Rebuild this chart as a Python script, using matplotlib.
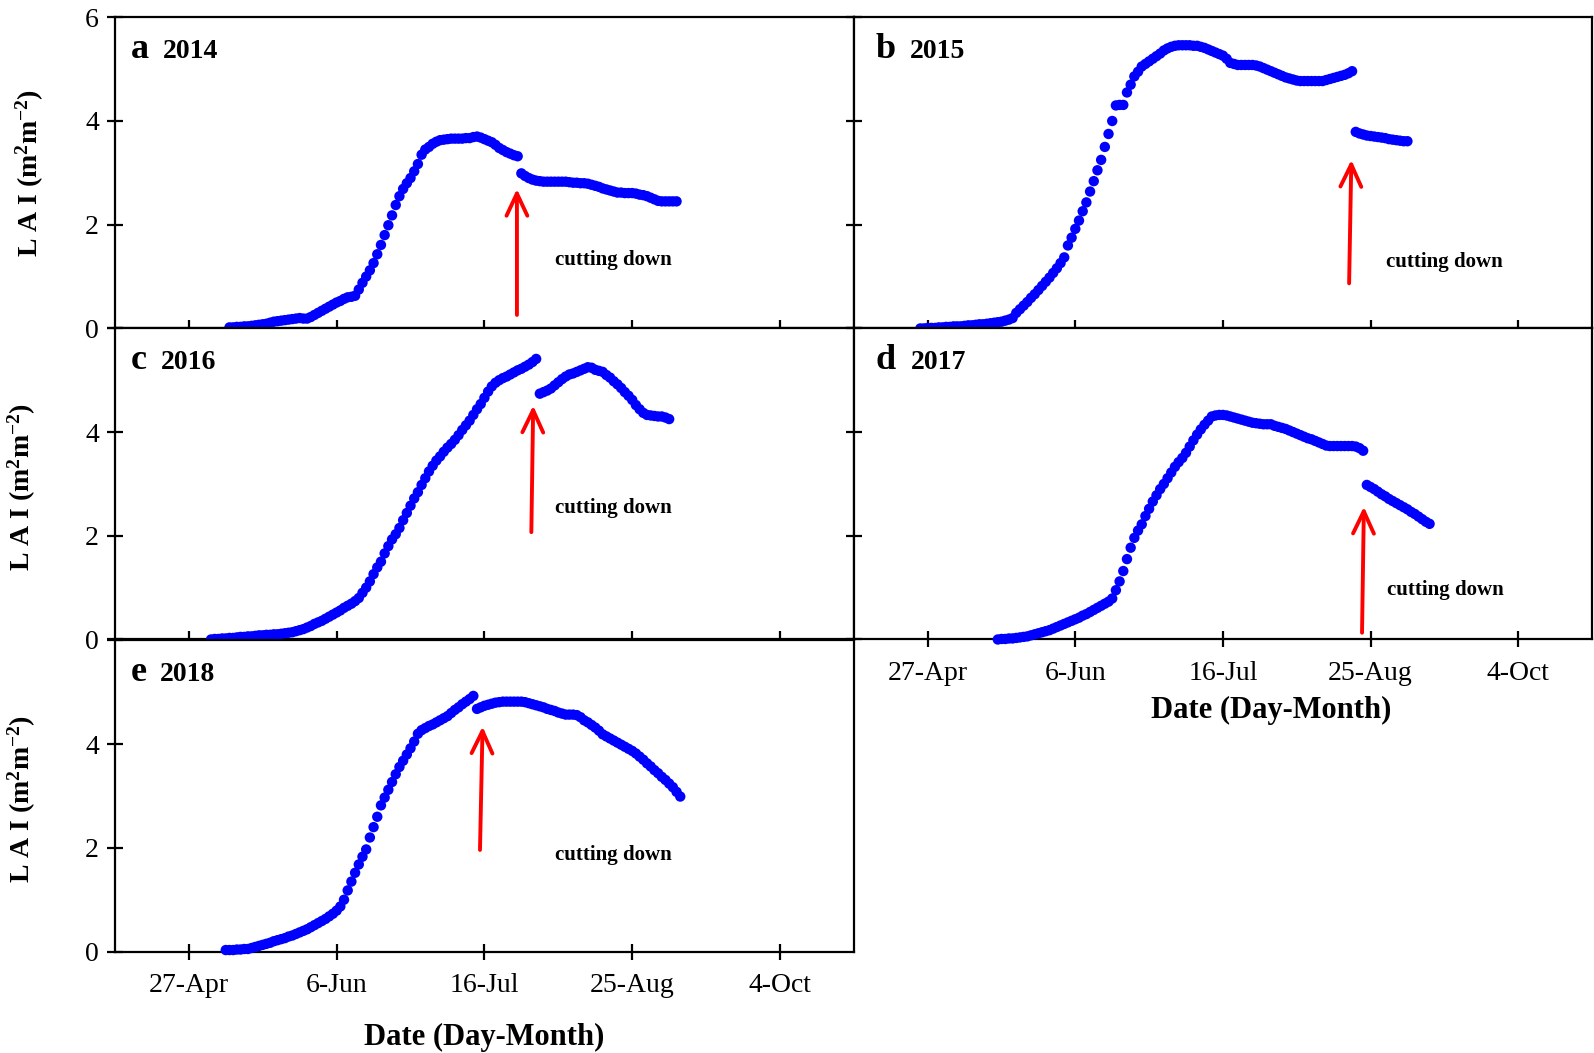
import numpy as np
import matplotlib
matplotlib.use("Agg")
import matplotlib.pyplot as plt

plt.rcParams['font.family'] = ['Liberation Serif', 'DejaVu Serif']
plt.rcParams['mathtext.fontset'] = 'custom'
plt.rcParams['mathtext.rm'] = 'Liberation Serif'
plt.rcParams['mathtext.bf'] = 'Liberation Serif:bold'
plt.rcParams['mathtext.default'] = 'bf'

# day of year ticks
tick_doy = [117, 157, 197, 237, 277]
tick_labels = ['27-Apr', '6-Jun', '16-Jul', '25-Aug', '4-Oct']

# 2014 (a)
start_2014 = 128
lai_2014_pre = [0.02, 0.02, 0.03, 0.03, 0.04, 0.04, 0.05, 0.06, 0.07, 0.08,
                0.09, 0.11, 0.13, 0.14, 0.15, 0.16, 0.17, 0.18, 0.19, 0.2,
                0.19, 0.19, 0.22, 0.26, 0.3, 0.34, 0.38, 0.42, 0.46, 0.5,
                0.53, 0.57, 0.6, 0.61, 0.63, 0.75, 0.88, 1.0, 1.12, 1.26,
                1.43, 1.61, 1.8, 1.99, 2.18, 2.38, 2.55, 2.69, 2.8, 2.9,
                3.03, 3.17, 3.35, 3.45, 3.5, 3.56, 3.6, 3.63, 3.64, 3.65,
                3.66, 3.66, 3.66, 3.66, 3.67, 3.67, 3.69, 3.7, 3.68, 3.65,
                3.62, 3.59, 3.54, 3.48, 3.44, 3.4, 3.37, 3.34, 3.32]
lai_2014_post = [2.99, 2.94, 2.9, 2.87, 2.85, 2.84, 2.83, 2.83, 2.83, 2.83,
                 2.83, 2.83, 2.83, 2.82, 2.81, 2.81, 2.8, 2.8, 2.79, 2.77,
                 2.75, 2.73, 2.7, 2.68, 2.66, 2.64, 2.62, 2.62, 2.61, 2.61,
                 2.61, 2.6, 2.58, 2.57, 2.55, 2.52, 2.49, 2.46, 2.45, 2.45,
                 2.45, 2.45, 2.45]

# 2015 (b)
start_2015 = 115
lai_2015_pre = [0, 0, 0.01, 0.01, 0.01, 0.02, 0.02, 0.03, 0.03, 0.04,
                0.04, 0.04, 0.05, 0.06, 0.06, 0.07, 0.08, 0.08, 0.09, 0.1,
                0.11, 0.12, 0.13, 0.15, 0.17, 0.2, 0.3, 0.37, 0.44, 0.51,
                0.59, 0.66, 0.74, 0.82, 0.9, 0.98, 1.07, 1.16, 1.26, 1.37,
                1.6, 1.75, 1.92, 2.08, 2.26, 2.43, 2.64, 2.84, 3.05, 3.25,
                3.5, 3.75, 4.0, 4.3, 4.31, 4.31, 4.55, 4.7, 4.86, 4.95,
                5.05, 5.1, 5.15, 5.2, 5.25, 5.3, 5.36, 5.4, 5.43, 5.45,
                5.46, 5.46, 5.46, 5.46, 5.45, 5.45, 5.43, 5.41, 5.38, 5.35,
                5.32, 5.29, 5.26, 5.2, 5.12, 5.1, 5.08, 5.08, 5.08, 5.08,
                5.08, 5.07, 5.05, 5.02, 4.99, 4.96, 4.93, 4.9, 4.87, 4.84,
                4.82, 4.8, 4.78, 4.77, 4.77, 4.77, 4.77, 4.77, 4.77, 4.77,
                4.79, 4.81, 4.83, 4.85, 4.87, 4.89, 4.92, 4.96]
lai_2015_post = [3.79, 3.76, 3.74, 3.72, 3.71, 3.7, 3.69, 3.68, 3.67, 3.65,
                 3.64, 3.63, 3.62, 3.61, 3.61]

# 2016 (c)
start_2016 = 123
lai_2016_pre = [0, 0.01, 0.01, 0.02, 0.02, 0.03, 0.03, 0.04, 0.05, 0.05,
                0.06, 0.06, 0.07, 0.08, 0.08, 0.09, 0.09, 0.1, 0.1, 0.11,
                0.12, 0.13, 0.14, 0.16, 0.18, 0.2, 0.23, 0.26, 0.3, 0.33,
                0.36, 0.4, 0.44, 0.48, 0.52, 0.56, 0.61, 0.65, 0.69, 0.74,
                0.8, 0.9, 1.0, 1.12, 1.26, 1.39, 1.5, 1.66, 1.8, 1.93,
                2.03, 2.15, 2.3, 2.44, 2.58, 2.72, 2.84, 2.98, 3.11, 3.24,
                3.35, 3.45, 3.53, 3.62, 3.7, 3.77, 3.85, 3.94, 4.04, 4.13,
                4.22, 4.33, 4.44, 4.54, 4.66, 4.78, 4.88, 4.95, 5.0, 5.04,
                5.07, 5.11, 5.15, 5.19, 5.22, 5.26, 5.3, 5.35, 5.41]
lai_2016_post = [4.74, 4.77, 4.8, 4.84, 4.9, 4.96, 5.02, 5.07, 5.11, 5.13,
                 5.16, 5.19, 5.22, 5.25, 5.24, 5.2, 5.18, 5.16, 5.1, 5.05,
                 4.98, 4.92, 4.85, 4.77, 4.7, 4.62, 4.52, 4.44, 4.37, 4.33,
                 4.32, 4.31, 4.3, 4.3, 4.28, 4.25]

# 2017 (d)
start_2017 = 136
lai_2017_pre = [0, 0.01, 0.01, 0.02, 0.02, 0.03, 0.04, 0.05, 0.06, 0.08,
                0.1, 0.12, 0.14, 0.16, 0.18, 0.21, 0.24, 0.27, 0.3, 0.33,
                0.36, 0.39, 0.42, 0.46, 0.49, 0.53, 0.57, 0.61, 0.65, 0.69,
                0.73, 0.79, 0.95, 1.12, 1.32, 1.55, 1.77, 1.96, 2.1, 2.22,
                2.38, 2.52, 2.66, 2.78, 2.9, 3.0, 3.11, 3.22, 3.33, 3.42,
                3.5, 3.6, 3.72, 3.84, 3.95, 4.05, 4.14, 4.22, 4.3, 4.32,
                4.33, 4.33, 4.32, 4.3, 4.28, 4.26, 4.24, 4.22, 4.2, 4.18,
                4.17, 4.16, 4.15, 4.15, 4.15, 4.12, 4.1, 4.08, 4.06, 4.03,
                4.0, 3.97, 3.94, 3.91, 3.88, 3.86, 3.83, 3.8, 3.77, 3.74,
                3.73, 3.73, 3.73, 3.73, 3.73, 3.73, 3.73, 3.72, 3.69, 3.64]
lai_2017_post = [2.98, 2.94, 2.9, 2.85, 2.8, 2.76, 2.71, 2.67, 2.63, 2.59,
                 2.55, 2.51, 2.46, 2.42, 2.37, 2.32, 2.27, 2.23]

# 2018 (e)
start_2018 = 127
lai_2018_pre = [0.03, 0.03, 0.03, 0.04, 0.04, 0.05, 0.05, 0.07, 0.09, 0.11,
                0.13, 0.15, 0.17, 0.2, 0.22, 0.24, 0.26, 0.29, 0.31, 0.34,
                0.37, 0.4, 0.43, 0.47, 0.51, 0.55, 0.59, 0.63, 0.68, 0.73,
                0.79, 0.87, 1.0, 1.18, 1.35, 1.52, 1.68, 1.83, 1.97, 2.2,
                2.4, 2.6, 2.82, 2.97, 3.12, 3.27, 3.42, 3.56, 3.68, 3.8,
                3.92, 4.05, 4.2, 4.27, 4.31, 4.35, 4.38, 4.42, 4.46, 4.5,
                4.54, 4.6, 4.66, 4.71, 4.77, 4.82, 4.87, 4.93]
lai_2018_post = [4.68, 4.71, 4.74, 4.76, 4.78, 4.8, 4.81, 4.82, 4.82, 4.82,
                 4.82, 4.82, 4.82, 4.81, 4.79, 4.77, 4.75, 4.73, 4.71, 4.68,
                 4.66, 4.64, 4.61, 4.59, 4.57, 4.57, 4.57, 4.56, 4.52, 4.46,
                 4.42, 4.37, 4.32, 4.26, 4.19, 4.15, 4.11, 4.07, 4.03, 3.99,
                 3.95, 3.91, 3.87, 3.82, 3.76, 3.7, 3.63, 3.57, 3.5, 3.44,
                 3.37, 3.31, 3.24, 3.17, 3.08, 2.99]

panels = [
    ('a', '2014', start_2014, lai_2014_pre, lai_2014_post,
     (205.8, 0.26), (205.8, 2.69), (232, 1.31)),
    ('b', '2015', start_2015, lai_2015_pre, lai_2015_post,
     (231.2, 0.87), (231.8, 3.25), (257, 1.29)),
    ('c', '2016', start_2016, lai_2016_pre, lai_2016_post,
     (209.7, 2.07), (210.2, 4.51), (232, 2.53)),
    ('d', '2017', start_2017, lai_2017_pre, lai_2017_post,
     (234.7, 0.13), (235.2, 2.56), (257.4, 0.96)),
    ('e', '2018', start_2018, lai_2018_pre, lai_2018_post,
     (195.8, 1.96), (196.5, 4.34), (232, 1.86)),
]

fig = plt.figure(figsize=(15.94, 10.53), dpi=100)
lefts = [0.0721, 0.5357]
widths = [0.4636, 0.4630]
bottoms = [0.6881, 0.3927, 0.0963]
h = 0.2955
pos = [(0, 0), (1, 0), (0, 1), (1, 1), (0, 2)]
year_x = [0.065, 0.076, 0.062, 0.077, 0.061]
letter_x = [0.021, 0.029, 0.021, 0.029, 0.021]

for i, (letter, year, start, pre, post, base, tip, txt) in enumerate(panels):
    col, row = pos[i]
    ax = fig.add_axes([lefts[col], bottoms[row], widths[col], h])
    x_pre = np.arange(start, start + len(pre))
    x_post = np.arange(start + len(pre), start + len(pre) + len(post))
    ax.scatter(x_pre, pre, s=56, color='#0000ff', edgecolors='none',
               zorder=3, clip_on=False)
    ax.scatter(x_post, post, s=56, color='#0000ff', edgecolors='none',
               zorder=3, clip_on=False)

    ax.annotate('', xy=tip, xytext=base,
                arrowprops=dict(arrowstyle='->,head_length=1.6,head_width=0.75',
                                color='red', lw=2.8, shrinkA=0, shrinkB=0))
    ax.text(txt[0], txt[1], 'cutting down', fontsize=15, fontweight='bold',
            ha='center', va='center')

    ax.text(letter_x[i], 0.87, letter, transform=ax.transAxes, fontsize=26,
            fontweight='bold', va='baseline')
    ax.text(year_x[i], 0.87, year, transform=ax.transAxes, fontsize=20,
            fontweight='bold', va='baseline')

    ax.set_xlim(97, 297)
    ax.set_ylim(0, 6)
    ax.set_xticks(tick_doy)
    ax.set_yticks([0, 2, 4, 6])
    for sp in ax.spines.values():
        sp.set_linewidth(1.6)
    ax.tick_params(direction='inout', length=11, width=1.6, labelsize=20,
                   pad=6)
    ax.tick_params(axis='x', pad=10)

    if row == 2 or (col == 1 and row == 1):
        ax.set_xticklabels(tick_labels)
        ax.set_xlabel('Date (Day-Month)', fontsize=22, fontweight='bold')
        if col == 0:
            ax.xaxis.set_label_coords(0.5, -0.23)
        else:
            ax.xaxis.set_label_coords(0.566, -0.18)
    else:
        ax.set_xticklabels([])

    if col == 0:
        if row == 0:
            ax.set_yticklabels(['0', '2', '4', '6'])
        else:
            ax.set_yticklabels(['0', '2', '4', ''])
        ax.set_ylabel('L A I (m$^{2}$m$^{-2}$)', fontsize=20, fontweight='bold')
        if row == 0:
            ax.yaxis.set_label_coords(-0.093, 0.5)
        else:
            ax.yaxis.set_label_coords(-0.104, 0.49)
    else:
        ax.set_yticklabels([])

fig.savefig('out.png', dpi=100)
